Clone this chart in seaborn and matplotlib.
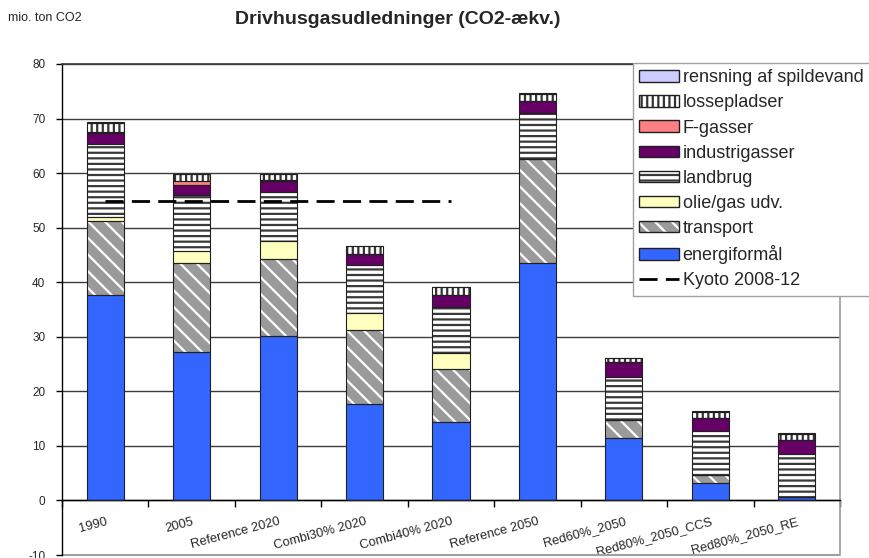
import numpy as np
import pandas as pd
import matplotlib
matplotlib.use("Agg")
import matplotlib.pyplot as plt
import seaborn as sns
from matplotlib.patches import Patch, Rectangle
from matplotlib.lines import Line2D

# Scenarios on the x axis
scenarios = ["1990", "2005", "Reference 2020", "Combi30% 2020", "Combi40% 2020",
             "Reference 2050", "Red60%_2050", "Red80%_2050_CCS", "Red80%_2050_RE"]

# Emissions per source, mio. ton CO2-eq (stacked bottom to top)
energiformaal = [37.7, 27.3, 30.2, 17.6, 14.3, 43.6, 11.4, 3.2, 0.7]
transport = [13.6, 16.3, 14.1, 13.7, 9.8, 19.0, 3.3, 1.5, 0.0]
olie_gas = [0.7, 2.2, 3.3, 3.0, 2.9, 0.0, 0.0, 0.0, 0.0]
landbrug = [13.3, 10.1, 8.9, 8.9, 8.5, 8.4, 8.0, 8.0, 7.8]
industrigasser = [2.1, 2.0, 2.1, 2.0, 2.2, 2.3, 2.6, 2.4, 2.5]
f_gasser = [0.2, 0.6, 0.1, 0.0, 0.0, 0.0, 0.0, 0.0, 0.0]
lossepladser = [1.6, 1.3, 1.1, 1.4, 1.4, 1.2, 0.8, 1.2, 1.2]
spildevand = [0.1, 0.1, 0.1, 0.1, 0.1, 0.1, 0.1, 0.1, 0.1]

# Kyoto target 2008-12, drawn across the first five scenarios
kyoto_level = 54.8
kyoto_span = ["1990", "Combi40% 2020"]

y_ticks = [-10, 0, 10, 20, 30, 40, 50, 60, 70, 80]

sns.set_theme(style="white")
plt.rcParams["font.family"] = ["Liberation Sans", "DejaVu Sans"]
plt.rcParams["hatch.linewidth"] = 1.6

# label, values, face colour, hatch, hatch colour
layers = [
    ("energiformål", energiformaal, "#3366ff", None, "#3366ff"),
    ("transport", transport, "#9a9a9a", "\\\\", "white"),
    ("olie/gas udv.", olie_gas, "#ffffc0", None, "#ffffc0"),
    ("landbrug", landbrug, "white", "---", "#3a3a3a"),
    ("industrigasser", industrigasser, "#660066", None, "#660066"),
    ("F-gasser", f_gasser, "#ff8080", None, "#ff8080"),
    ("lossepladser", lossepladser, "white", "|||", "#333333"),
    ("rensning af spildevand", spildevand, "#ccccff", None, "#ccccff"),
]

fig = plt.figure(figsize=(8.7, 5.58), dpi=100)
ax = fig.add_axes([62 / 870, 3 / 558, (840 - 62) / 870, (555 - 64) / 558])

outline = "#202020"
bottom = np.zeros(len(scenarios))
for label, vals, face, hatch, hcol in layers:
    df = pd.DataFrame({"scenario": scenarios, "value": vals})
    sns.barplot(data=df, x="scenario", y="value", order=scenarios, ax=ax,
                color=face, saturation=1, bottom=bottom.copy(), width=0.43,
                errorbar=None, facecolor=face, edgecolor=hcol, hatch=hatch,
                linewidth=0, zorder=2)
    sns.barplot(data=df, x="scenario", y="value", order=scenarios, ax=ax,
                color=outline, saturation=1, bottom=bottom.copy(), width=0.43,
                errorbar=None, facecolor="none", edgecolor=outline,
                linewidth=0.8, zorder=3)
    bottom += np.array(vals)

# Kyoto line
kx = [scenarios.index(kyoto_span[0]), scenarios.index(kyoto_span[1])]
sns.lineplot(x=kx, y=[kyoto_level, kyoto_level], ax=ax, color="black",
             linewidth=2.0, zorder=5)
ax.lines[-1].set_dashes((6.5, 3))

ax.set_ylim(-10, 80)
ax.set_xlim(-0.5, len(scenarios) - 0.5)
ax.set_yticks(y_ticks)
ax.set_yticklabels([str(t) for t in y_ticks], fontsize=8.5)
ax.set_xlabel("")
ax.set_ylabel("")

ax.yaxis.grid(True, color="#3c3c3c", linewidth=1.0)
ax.set_axisbelow(True)

# Axis lines: value axis on the left, category axis at zero
ax.spines["left"].set_color("black")
ax.spines["left"].set_linewidth(1.0)
ax.spines["bottom"].set_position(("data", 0))
ax.spines["bottom"].set_color("black")
ax.spines["bottom"].set_linewidth(1.0)
ax.spines["top"].set_color("#3c3c3c")
ax.spines["right"].set_color("#a0a0a0")
ax.add_patch(Rectangle((0, 0), 1, 0.0, transform=ax.transAxes, fill=False,
                       edgecolor="#a0a0a0", linewidth=1.5, clip_on=False))

ax.tick_params(axis="y", which="major", length=4, width=1, color="black",
               direction="out", pad=8, left=True)
ax.set_xticks(np.arange(-0.5, len(scenarios), 1), minor=True)
ax.tick_params(axis="x", which="minor", length=5, width=1, color="black",
               direction="out", bottom=True)
ax.tick_params(axis="x", which="major", length=0, pad=11)
ax.set_xticks(range(len(scenarios)))
ax.set_xticklabels(scenarios, fontsize=9.3, rotation=15, ha="right",
                   va="top", rotation_mode="anchor")

# Titles
fig.text(8 / 870, 1 - 18 / 558, "mio. ton CO2", fontsize=9, va="center", ha="left")
fig.text(398 / 870, 1 - 20 / 558, "Drivhusgasudledninger (CO2-ækv.)",
         fontsize=14, fontweight="bold", va="center", ha="center")

# Legend: top layer first, Kyoto line last
handles, labels = [], []
for label, vals, face, hatch, hcol in reversed(layers):
    fillp = Patch(facecolor=face, edgecolor=hcol, hatch=hatch, linewidth=0)
    edgep = Patch(facecolor="none", edgecolor=outline, linewidth=1.0)
    handles.append((fillp, edgep))
    labels.append(label)
handles.append(Line2D([0], [0], color="black", linewidth=2.0, dashes=(6.5, 3)))
labels.append("Kyoto 2008-12")

leg = fig.legend(handles, labels, loc="upper left",
                 bbox_to_anchor=(633 / 870, 1 - 63 / 558), fontsize=13,
                 frameon=True, fancybox=False, edgecolor="#a0a0a0",
                 framealpha=1, handlelength=2.2, handleheight=0.6,
                 handletextpad=0.2, labelspacing=0.45, borderpad=0.35,
                 borderaxespad=0)
leg.get_frame().set_linewidth(1.0)

fig.savefig("out.png", dpi=100, facecolor="white")
